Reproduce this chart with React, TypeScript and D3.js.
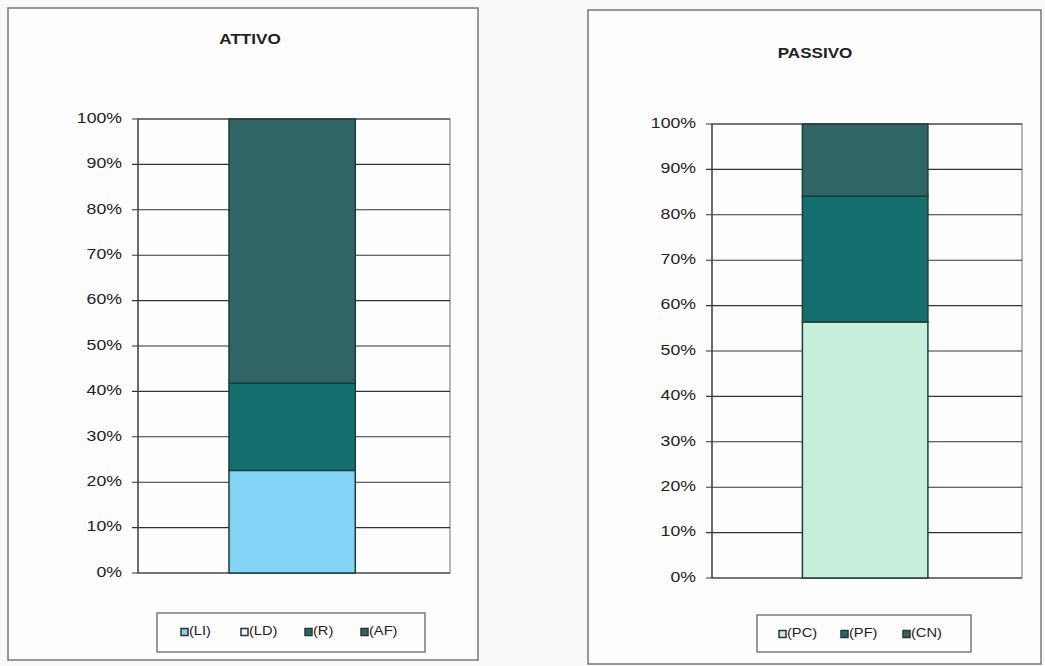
import React from "react";
import * as d3 from "d3";

// ---- data ----
const attivoSeries = ["(LI)", "(LD)", "(R)", "(AF)"];
const attivoValues = [22.6, 0, 19.2, 58.2];
const attivoColors = ["#82d3f6", "#eef6f8", "#13706f", "#2f6665"];

const passivoSeries = ["(PC)", "(PF)", "(CN)"];
const passivoValues = [56.4, 27.7, 15.9];
const passivoColors = ["#c5eedb", "#13706f", "#2f6665"];

const yTicks = [0, 10, 20, 30, 40, 50, 60, 70, 80, 90, 100];
const category = ["Totale"];

const FONT = "Arial, 'Liberation Sans', Helvetica, sans-serif";
const SX = 1.22;

type PanelProps = {
  title: string;
  series: string[];
  values: number[];
  colors: string[];
  frame: [number, number, number, number];
  plot: [number, number, number, number]; // x0, y0(top), x1, y1(bottom)
  titleX: number;
  titleY: number;
  legendBox: [number, number, number, number];
  legendX: number[];
  legendY: number;
};

function SText({ x, y, anchor, size, weight, children }: any) {
  return (
    <text
      transform={`translate(${x},${y}) scale(${SX},1)`}
      textAnchor={anchor}
      fontSize={size}
      fontWeight={weight || "normal"}
      fontFamily={FONT}
      fill="#222"
      dominantBaseline="middle"
    >
      {children}
    </text>
  );
}

function Panel(p: PanelProps) {
  const [px0, py0, px1, py1] = p.plot;
  const y = d3.scaleLinear().domain([0, 100]).range([py1, py0]);
  const x = d3.scaleBand().domain(category).range([px0, px1]).paddingInner(0).paddingOuter(0.735).align(0.49);
  const stackData = [Object.fromEntries(p.series.map((s, i) => [s, p.values[i]]))];
  const stacked = d3.stack<any>().keys(p.series)(stackData as any);
  const fmt = (v: number) => `${v}%`;
  const [fx0, fy0, fx1, fy1] = p.frame;
  const [lx0, ly0, lx1, ly1] = p.legendBox;
  return (
    <g>
      <rect x={fx0} y={fy0} width={fx1 - fx0} height={fy1 - fy0} fill="#fdfdfd" stroke="#777" strokeWidth={1.5} />
      <SText x={p.titleX} y={p.titleY} anchor="middle" size={14} weight="bold">{p.title}</SText>
      {/* plot area */}
      <rect x={px0} y={py0} width={px1 - px0} height={py1 - py0} fill="#fefefe" stroke="#888" strokeWidth={1.2} />
      {yTicks.map((t) => (
        <g key={t}>
          <line x1={px0 - 6} x2={px1} y1={y(t)} y2={y(t)} stroke="#333" strokeWidth={1.1} />
          <SText x={px0 - 16} y={y(t)} anchor="end" size={14.5}>{fmt(t)}</SText>
        </g>
      ))}
      <line x1={px0} x2={px0} y1={py0} y2={py1} stroke="#444" strokeWidth={1.3} />
      {stacked.map((layer, i) =>
        layer.map((d, j) =>
          d[1] - d[0] > 0 ? (
            <rect
              key={`${i}-${j}`}
              x={x(category[j])!}
              y={y(d[1])}
              width={x.bandwidth()}
              height={y(d[0]) - y(d[1])}
              fill={p.colors[i]}
              stroke="#1f3b3b"
              strokeWidth={1.5}
            />
          ) : null
        )
      )}
      {/* legend */}
      <rect x={lx0} y={ly0} width={lx1 - lx0} height={ly1 - ly0} fill="#fdfdfd" stroke="#666" strokeWidth={1.3} />
      {p.series.map((s, i) => (
        <g key={s}>
          <rect x={p.legendX[i]} y={p.legendY - 3.5} width={7} height={7} fill={p.colors[i]} stroke="#333" strokeWidth={1.5} />
          <SText x={p.legendX[i] + 8} y={p.legendY} anchor="start" size={12}>{s}</SText>
        </g>
      ))}
    </g>
  );
}

export default function App() {
  return (
    <svg
      width={1045}
      height={666}
      style={{ position: "absolute", left: 0, top: 0, background: "#f9f9f9" }}
    >
      <Panel
        title="ATTIVO"
        series={attivoSeries}
        values={attivoValues}
        colors={attivoColors}
        frame={[8, 8, 478, 660]}
        plot={[138, 119, 450, 573]}
        titleX={250}
        titleY={40}
        legendBox={[157, 613, 425, 652]}
        legendX={[181, 241, 305, 361]}
        legendY={632}
      />
      <Panel
        title="PASSIVO"
        series={passivoSeries}
        values={passivoValues}
        colors={passivoColors}
        frame={[588, 10, 1041, 664]}
        plot={[712, 124, 1022, 578]}
        titleX={815}
        titleY={54}
        legendBox={[757, 615, 971, 652]}
        legendX={[779, 841, 903]}
        legendY={634}
      />
    </svg>
  );
}
